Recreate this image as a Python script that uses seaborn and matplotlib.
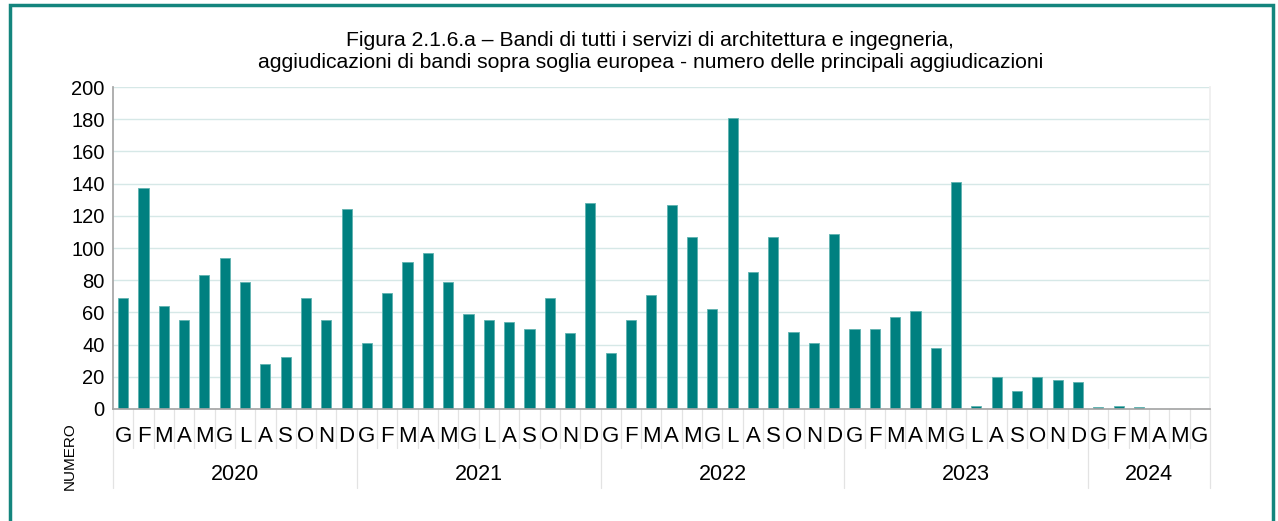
import matplotlib.pyplot as plt
import matplotlib.transforms as mtransforms
import numpy as np
import pandas as pd
import seaborn as sns

years = ["2020", "2021", "2022", "2023", "2024"]
months = ["G", "F", "M", "A", "M", "G", "L", "A", "S", "O", "N", "D"]
values_2020 = [69, 137, 64, 55, 83, 94, 79, 28, 32, 69, 55, 124]
values_2021 = [41, 72, 91, 97, 79, 59, 55, 54, 50, 69, 47, 128]
values_2022 = [35, 55, 71, 127, 107, 62, 181, 85, 107, 48, 41, 109]
values_2023 = [50, 50, 57, 61, 38, 141, 2, 20, 11, 20, 18, 17]
values_2024 = [1, 2, 1, 0, 0, 0]

series = [values_2020, values_2021, values_2022, values_2023, values_2024]
rows = []
for year, vals in zip(years, series):
    for i, v in enumerate(vals):
        rows.append({"year": year, "month": months[i], "value": v})
df = pd.DataFrame(rows)
df["pos"] = np.arange(len(df))

sns.set_theme(style="white")
plt.rcParams["font.family"] = ["Liberation Sans", "DejaVu Sans"]
plt.rcParams["text.color"] = "black"
plt.rcParams["ytick.color"] = "black"

teal = "#008080"
fig = plt.figure(figsize=(12.78, 5.21), dpi=100)
ax = fig.add_axes([113 / 1278, 1 - 409 / 521, (1210 - 113) / 1278, (409 - 87) / 521])

sns.barplot(data=df, x="pos", y="value", color=teal, width=0.5,
            edgecolor="#5fb3b0", linewidth=0.6, saturation=1, ax=ax)

n = len(df)
ax.set_xlim(-0.5, n - 0.5)
ax.set_ylim(0, 200)
ax.set_yticks(range(0, 201, 20))
ax.tick_params(axis="y", labelsize=14.5, length=0, pad=6, labelcolor="black")
ax.set_xticks([])
ax.set_xlabel("")
ax.set_ylabel("")
ax.grid(axis="y", color="#d6e8e7", linewidth=1)
ax.set_axisbelow(True)
ax.spines["top"].set_visible(False)
ax.spines["right"].set_color("#eeeeee")
ax.spines["left"].set_color("#a6a6a6")
ax.spines["bottom"].set_color("#a6a6a6")

trans = mtransforms.blended_transform_factory(ax.transData, ax.transAxes)
axis_h = 409 - 87
month_drop = -39 / axis_h
year_drop = -79 / axis_h
for i in range(n + 1):
    ax.plot([i - 0.5, i - 0.5], [0, month_drop], transform=trans,
            color="#e3e3e3", linewidth=0.9, clip_on=False)
for _, r in df.iterrows():
    ax.text(r["pos"], -28 / axis_h, r["month"], transform=trans,
            ha="center", va="center", fontsize=16, color="black")

start = 0
for year, vals in zip(years, series):
    end = start + len(vals)
    ax.plot([start - 0.5, start - 0.5], [month_drop, year_drop], transform=trans,
            color="#e3e3e3", linewidth=0.9, clip_on=False)
    ax.text((start + end - 1) / 2, -66 / axis_h, year, transform=trans,
            ha="center", va="center", fontsize=15.5, color="black")
    start = end
ax.plot([n - 0.5, n - 0.5], [month_drop, year_drop], transform=trans,
        color="#e3e3e3", linewidth=0.9, clip_on=False)

fig.text(70 / 1278, 1 - 456 / 521, "NUMERO", rotation=90, ha="center",
         va="center", fontsize=11)
fig.text(650 / 1278, 1 - 40 / 521,
         "Figura 2.1.6.a – Bandi di tutti i servizi di architettura e ingegneria,",
         ha="center", va="center", fontsize=15.2)
fig.text(651 / 1278, 1 - 63 / 521,
         "aggiudicazioni di bandi sopra soglia europea - numero delle principali aggiudicazioni",
         ha="center", va="center", fontsize=15.2)

border = plt.Rectangle((10 / 1278, -0.02), 1263 / 1278, 1 - 5 / 521 + 0.02,
                       transform=fig.transFigure, fill=False,
                       edgecolor="#14857d", linewidth=2.5)
fig.patches.append(border)

fig.savefig("out.png", dpi=100)
plt.close(fig)
